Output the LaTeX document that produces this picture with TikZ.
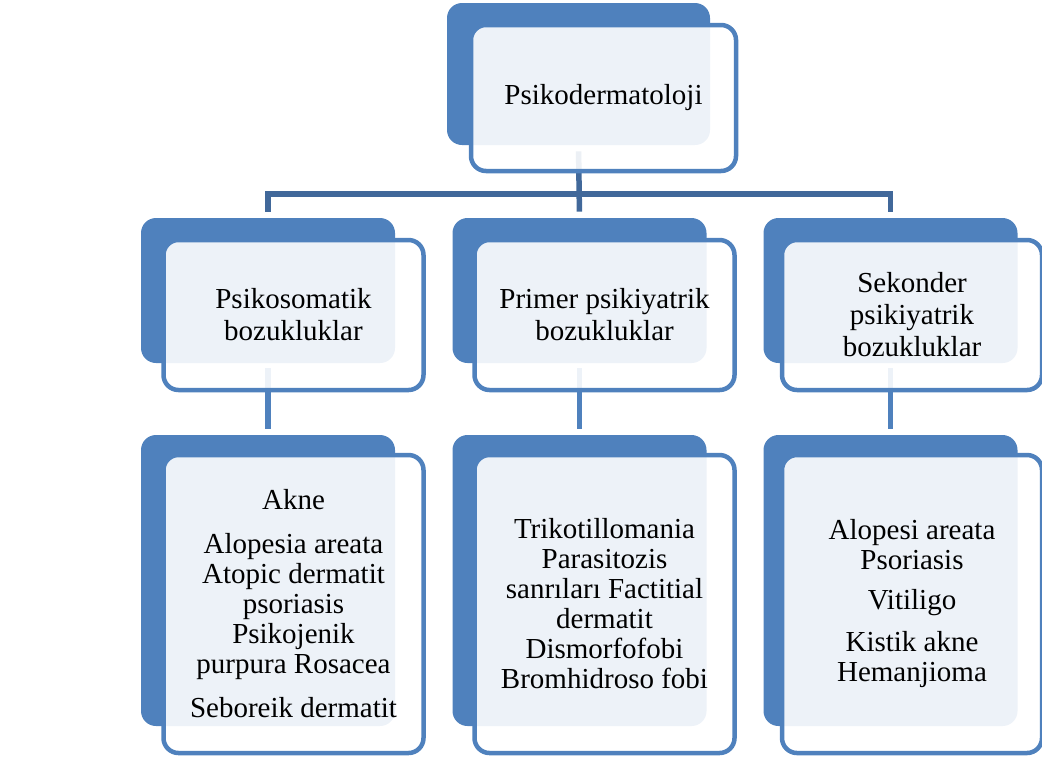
\documentclass[tikz,border=0pt]{standalone}
\usepackage{fontspec}
\setmainfont{Liberation Serif}
\usetikzlibrary{positioning}
\definecolor{accent}{HTML}{4F81BD}
\definecolor{busblue}{HTML}{41689A}
\tikzstyle{backbox}=[fill=accent, rounded corners=7.5pt, inner sep=0pt, minimum width=127pt, minimum height=72.5pt]
\tikzstyle{frontbox}=[draw=accent, line width=2.25pt, fill=white, fill opacity=0.9, text opacity=1, rounded corners=7.5pt, inner sep=0pt, minimum width=130pt, minimum height=75pt, align=center, font=\fontsize{14.5}{16}\selectfont]
\tikzstyle{tallbox}=[minimum height=149pt, font=\fontsize{14.5}{15}\selectfont]
\tikzstyle{buslink}=[draw=busblue, line width=2.75pt]
\tikzstyle{sublink}=[draw=accent, line width=2.75pt, shorten <=2.5pt, shorten >=3pt]

\begin{document}
\begin{tikzpicture}[x=0.5pt, y=-0.5pt]
    \useasboundingbox (0,0) rectangle (1042,762);
    % Back boxes
    \node[backbox, minimum width=131.5pt, minimum height=71pt] (pdb) at (578.5,74) {};
    \node[backbox] (psb) at (268,290.5) {};
    \node[backbox] (ppb) at (579.5,290.5) {};
    \node[backbox] (skb) at (890.5,290.5) {};
    \node[backbox, minimum height=145.5pt] (psl) at (268,580.5) {};
    \node[backbox, minimum height=145.5pt] (ppl) at (579.5,580.5) {};
    \node[backbox, minimum height=145.5pt] (skl) at (890.5,580.5) {};

    % Connectors
    \coordinate (bus) at (579.5,194);
    \path[buslink, shorten <=3pt, shorten >=3pt] (psb.north) |- (bus) -| (skb.north);
    \path[buslink, shorten <=3pt, shorten >=3pt] (pdb.south) -- (ppb.north);
    \path[sublink] (psb.south) -- (psl.north);
    \path[sublink] (ppb.south) -- (ppl.north);
    \path[sublink] (skb.south) -- (skl.north);

    % Front boxes
    \node[frontbox, minimum width=132.5pt, minimum height=73pt] (pd) at (603.5,98) {Psikodermatoloji};
    \node[frontbox] (ps) at (293.5,315) {Psikosomatik\\ bozukluklar};
    \node[frontbox] (pp) at (604.5,315) {Primer psikiyatrik\\ bozukluklar};
    \node[frontbox] (sk) at (912,315) {Sekonder\\ psikiyatrik\\ bozukluklar};
    \node[frontbox, tallbox] (psx) at (293.5,604) {Akne\\[7pt] Alopesia areata\\ Atopic dermatit\\ psoriasis\\ Psikojenik\\ purpura Rosacea\\[7pt] Seboreik dermatit};
    \node[frontbox, tallbox] (ppx) at (604.5,604) {Trikotillomania\\ Parasitozis\\ sanrıları Factitial\\ dermatit\\ Dismorfofobi\\ Bromhidroso fobi};
    \node[frontbox, tallbox] (skx) at (912,604) {Alopesi areata\\ Psoriasis\\[5pt] Vitiligo\\[6pt] Kistik akne\\ Hemanjioma};
\end{tikzpicture}
\end{document}
